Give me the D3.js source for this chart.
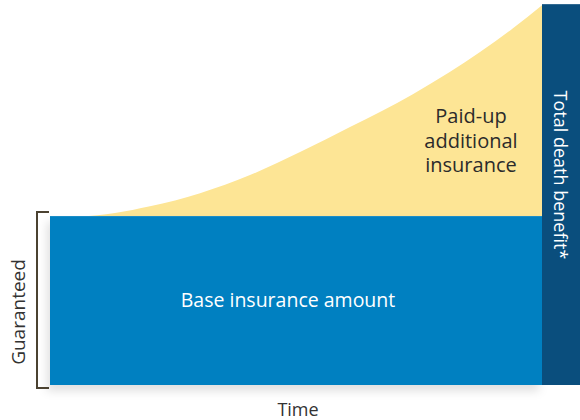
<!DOCTYPE html>
<html>
<head>
<meta charset="utf-8">
<script src="https://cdn.jsdelivr.net/npm/d3@7"></script>
<style>
body { margin: 0; background: #fff; }
text { font-family: "Open Sans", sans-serif; }
</style>
</head>
<body>
<script>
var width = 580, height = 420;

// years on the time axis and total death benefit (base = 100)
var years = [0, 2.44, 8.13, 12.2, 16.26, 20.33, 24.39, 29.5, 32.5, 34.96, 37.64, 40];
var totals = [100, 100, 105.9, 113.6, 124.3, 137.9, 152.7, 172.2, 185.3, 197.1, 211.3, 224.9];
var baseAmount = 100;
var maxYear = 40;
var maxBenefit = 225;

var labels = {
	base: "Base insurance amount",
	paidUp: ["Paid-up", "additional", "insurance"],
	total: "Total death benefit*",
	guaranteed: "Guaranteed",
	time: "Time"
};

var svg = d3.select("body").append("svg")
	.attr("width", width)
	.attr("height", height);

var x = d3.scaleLinear().domain([0, maxYear]).range([50, 542]);
var y = d3.scaleLinear().domain([0, maxBenefit]).range([385, 5]);

var data = years.map(function (d, i) { return {year: d, total: totals[i]}; });

// soft shadow under the base block
var defs = svg.append("defs");
var f = defs.append("filter").attr("id", "shadow")
	.attr("x", "-10%").attr("y", "-10%").attr("width", "120%").attr("height", "130%");
f.append("feDropShadow")
	.attr("dx", -3).attr("dy", 6).attr("stdDeviation", 5)
	.attr("flood-color", "#000").attr("flood-opacity", 0.12);

// paid-up additions area
var area = d3.area()
	.x(function (d) { return x(d.year); })
	.y0(y(baseAmount))
	.y1(function (d) { return y(d.total); })
	.curve(d3.curveMonotoneX);

svg.append("path")
	.datum(data)
	.attr("d", area)
	.attr("fill", "#fde595");

// base insurance block
svg.append("rect")
	.attr("x", x(0))
	.attr("y", y(baseAmount))
	.attr("width", x(maxYear) - x(0))
	.attr("height", y(0) - y(baseAmount))
	.attr("fill", "#0080c1")
	.attr("filter", "url(#shadow)");

// total death benefit bar
svg.append("rect")
	.attr("x", x(maxYear))
	.attr("y", y(totals[totals.length - 1]) - 1)
	.attr("width", width - x(maxYear))
	.attr("height", y(0) - y(totals[totals.length - 1]) + 1)
	.attr("fill", "#0a4e7d");

// bracket for guaranteed part
var bx = 37;
svg.append("path")
	.attr("d", "M" + (x(0) - 1) + "," + (y(baseAmount) - 4) +
		"H" + bx + "V" + (y(0) + 3) + "H" + (x(0) - 1))
	.attr("fill", "none")
	.attr("stroke", "#4b4231")
	.attr("stroke-width", 2);

svg.append("text")
	.attr("transform", "translate(25," + 312 + ") rotate(-90)")
	.attr("text-anchor", "middle")
	.attr("font-size", 19)
	.attr("fill", "#333")
	.text(labels.guaranteed);

svg.append("text")
	.attr("x", 288)
	.attr("y", 307)
	.attr("text-anchor", "middle")
	.attr("font-size", 19.5)
	.attr("fill", "#fff")
	.text(labels.base);

svg.selectAll("text.paid")
	.data(labels.paidUp)
	.enter()
	.append("text")
	.attr("class", "paid")
	.attr("x", 471)
	.attr("y", function (d, i) { return 123 + i * 24.5; })
	.attr("text-anchor", "middle")
	.attr("font-size", 20)
	.attr("fill", "#2b2b2b")
	.text(function (d) { return d; });

svg.append("text")
	.attr("transform", "translate(554," + 175 + ") rotate(90)")
	.attr("text-anchor", "middle")
	.attr("font-size", 18)
	.attr("fill", "#fff")
	.text(labels.total);

svg.append("text")
	.attr("x", 298)
	.attr("y", 416)
	.attr("text-anchor", "middle")
	.attr("font-size", 18)
	.attr("fill", "#333")
	.text(labels.time);
</script>
</body>
</html>
